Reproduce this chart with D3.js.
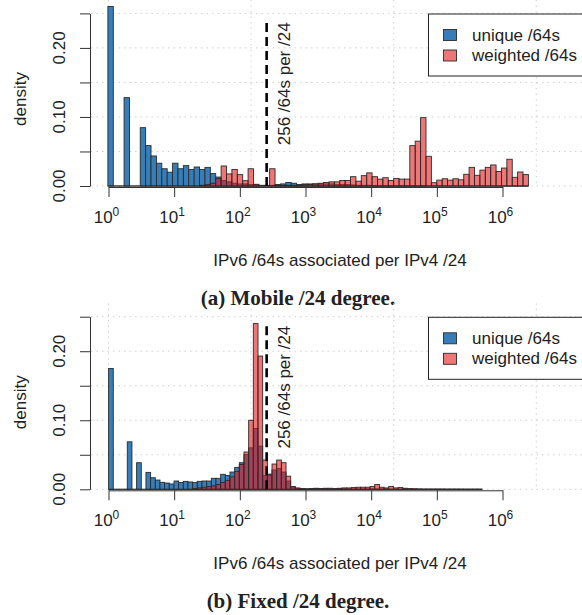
<!DOCTYPE html>
<html>
<head>
<meta charset="utf-8">
<script src="https://cdnjs.cloudflare.com/ajax/libs/d3/7.8.5/d3.min.js"></script>
<style>
  body { margin: 0; background: #fff; }
  text { font-family: "Liberation Sans", Arial, sans-serif; fill: #222; }
  .cap { font-family: "Liberation Serif", "Times New Roman", serif; font-weight: bold; }
</style>
</head>
<body>
<svg id="chart" width="582" height="615"></svg>
<script>
// histogram densities, one value per bin (log10 bins)
var mobileUnique = [0.260, 0, 0, 0.128, 0, 0, 0.0845, 0.0585, 0.0435, 0.033,
  0.025, 0.020, 0.033, 0.025, 0.0295, 0.024, 0.0275, 0.024, 0.027, 0.018,
  0.013, 0.008, 0.006, 0.004, 0.003, 0.003, 0.002, 0.002, 0.001, 0.001,
  0.001, 0.002, 0.003, 0.005, 0.004, 0.002, 0.003, 0.003, 0.003, 0.003,
  0.003, 0.003, 0.002, 0.002, 0.002, 0.0015, 0.001, 0.001, 0.001, 0.0008,
  0.0005, 0.0004, 0.0003, 0.0003, 0.0002, 0.0002, 0.0002, 0.0001, 0.0001, 0,
  0, 0, 0, 0, 0, 0, 0, 0, 0, 0,
  0, 0, 0, 0, 0, 0, 0, 0];
var mobileWeighted = [0, 0, 0, 0, 0, 0, 0, 0, 0, 0,
  0, 0, 0, 0, 0, 0, 0, 0.001, 0.002, 0.004,
  0.011, 0.029, 0.0175, 0.024, 0.0165, 0.0077, 0.025, 0.0025, 0, 0,
  0.025, 0.0015, 0.001, 0.001, 0.001, 0.0015, 0.002, 0.002, 0.003, 0.004,
  0.005, 0.006, 0.006, 0.008, 0.008, 0.0135, 0.007, 0.015, 0.019, 0.0135,
  0.010, 0.012, 0.008, 0.011, 0.010, 0.010, 0.0585, 0.065, 0.099, 0.043,
  0.0048, 0.0085, 0.0105, 0.0085, 0.0105, 0.009, 0.017, 0.027, 0.0155, 0.023,
  0.027, 0.0305, 0.021, 0.026, 0.0387, 0.0126, 0.0203, 0.0165];
var fixedUnique = [0.175, 0, 0, 0, 0.0688, 0, 0.0385, 0, 0.0245, 0.0168,
  0.0134, 0.0101, 0.0091, 0.0077, 0.012, 0.010, 0.0115, 0.0106, 0.010, 0.0115,
  0.012, 0.012, 0.0159, 0.0159, 0.0217, 0.020, 0.025, 0.0318, 0.0385, 0.0505,
  0.060, 0.088, 0.0626, 0.020, 0.022, 0.028, 0.030, 0.025, 0.012, 0.003,
  0.001, 0.0005, 0.0005, 0.0005, 0.0005, 0.0005, 0.0005, 0.0005, 0.0005, 0.0005,
  0.0005, 0.0003, 0.0003, 0.0003, 0.0003, 0.0003, 0.0003, 0.0003, 0.0003, 0.0003,
  0, 0, 0, 0, 0, 0, 0, 0, 0, 0,
  0, 0, 0, 0, 0, 0, 0, 0, 0, 0];
var fixedWeighted = [0, 0, 0, 0, 0, 0, 0, 0, 0, 0,
  0, 0, 0, 0, 0, 0, 0, 0, 0.001, 0.002,
  0.003, 0.004, 0.005, 0.007, 0.010, 0.013, 0.018, 0.026, 0.036, 0.054,
  0.100, 0.240, 0.193, 0.0424, 0.0207, 0.0366, 0.0424, 0.0385, 0.019, 0.004,
  0.002, 0.001, 0.0005, 0.001, 0.0015, 0.001, 0.0015, 0.0015, 0.001, 0.0015,
  0.002, 0.002, 0.0025, 0.003, 0.003, 0.003, 0.004, 0.007, 0.003, 0.002,
  0.004, 0.002, 0.0025, 0.0015, 0.001, 0.0008, 0.0005, 0.0003, 0.0003, 0.0003,
  0.0003, 0.0003, 0.0002, 0.0002, 0.0002, 0.0002, 0.0001, 0.0001, 0.0001, 0.0001];

// bin layout in log10 units (first edge, width)
var mobileBins = [-0.0091, 0.0821];
var fixedBins = [0.0015, 0.0711];

var decades = [0, 1, 2, 3, 4, 5, 6];
var yTicks = [0, 0.05, 0.10, 0.15, 0.20, 0.25];
var yLabels = [0, 0.10, 0.20];
var seriesNames = ["unique /64s", "weighted /64s"];
var refValue = 256;
var refLabel = "256 /64s per /24";
var xTitle = "IPv6 /64s associated per IPv4 /24";

var blue = "#377EB8";
var red = "rgba(228,26,28,0.6)";
var edge = "#2b2b2b";

var svg = d3.select("#chart");
svg.append("rect").attr("width", 582).attr("height", 615).attr("fill", "#fff");

var x = d3.scaleLog().domain([1, 1e6]).range([108.5, 502.5]);

function panel(y0, unique, weighted, bins, caption) {
    var g = svg.append("g");
    var y = d3.scaleLinear().domain([0, 0.25]).range([y0, y0 - 172.6]);
    var top = y0 - 186;

    // grid
    g.selectAll(".hg").data(yTicks).enter().append("line")
        .attr("x1", 91).attr("x2", 600)
        .attr("y1", d => y(d)).attr("y2", d => y(d))
        .attr("stroke", "#cfcfcf").attr("stroke-dasharray", "1.5,4");
    g.selectAll(".vg").data([0, 5, 10, 15]).enter().append("line")
        .attr("x1", d => x(Math.exp(d))).attr("x2", d => x(Math.exp(d)))
        .attr("y1", top).attr("y2", y0)
        .attr("stroke", "#cfcfcf").attr("stroke-dasharray", "1.5,4");

    function edgeAt(k) { return x(Math.pow(10, bins[0] + k * bins[1])); }

    [[unique, blue], [weighted, red]].forEach(function(s) {
        var vals = s[0].map((v, k) => ({k: k, v: v})).filter(d => d.v > 0);
        g.append("line")
            .attr("x1", edgeAt(0)).attr("x2", edgeAt(s[0].length))
            .attr("y1", y0).attr("y2", y0)
            .attr("stroke", edge).attr("stroke-width", 0.9);
        g.selectAll(null).data(vals).enter().append("rect")
            .attr("x", d => edgeAt(d.k))
            .attr("y", d => y(d.v))
            .attr("width", d => edgeAt(d.k + 1) - edgeAt(d.k))
            .attr("height", d => y0 - y(d.v))
            .attr("fill", s[1]).attr("stroke", edge).attr("stroke-width", 0.9);
    });

    // reference line
    var ry = y(0.237);
    g.append("line")
        .attr("x1", x(refValue)).attr("x2", x(refValue))
        .attr("y1", y0).attr("y2", ry)
        .attr("stroke", "#000").attr("stroke-width", 2.6)
        .attr("stroke-dasharray", "9,5");
    g.append("text")
        .attr("transform", "translate(" + (x(refValue) + 23) + "," + ry + ") rotate(-90)")
        .attr("text-anchor", "end").style("font-size", "17px")
        .text(refLabel);

    // axes
    var ya = g.append("g").attr("transform", "translate(90,0)")
        .call(d3.axisLeft(y).tickValues(yTicks).tickSize(10).tickSizeOuter(0).tickFormat(""));
    ya.selectAll("path,line").attr("stroke", "#333");
    g.selectAll(".yl").data(yLabels).enter().append("text")
        .attr("transform", d => "translate(65," + y(d) + ") rotate(-90)")
        .attr("text-anchor", "middle").style("font-size", "17px")
        .text(d => d.toFixed(2));
    g.append("text")
        .attr("transform", "translate(26," + (y0 - 87) + ") rotate(-90)")
        .attr("text-anchor", "middle").style("font-size", "17px")
        .text("density");

    var xa = g.append("g").attr("transform", "translate(0," + (y0 + 1) + ")")
        .call(d3.axisBottom(x).tickValues(decades.map(d => Math.pow(10, d)))
            .tickSize(10).tickSizeOuter(0).tickFormat(""));
    xa.selectAll("path,line").attr("stroke", "#333");
    var lab = g.selectAll(".xl").data(decades).enter().append("text")
        .attr("x", d => x(Math.pow(10, d)) - 2)
        .attr("y", y0 + 37)
        .attr("text-anchor", "middle").style("font-size", "17px");
    lab.append("tspan").text("10");
    lab.append("tspan").attr("dy", -7).style("font-size", "12px").text(d => d);

    g.append("text").attr("x", 340).attr("y", y0 + 80)
        .attr("text-anchor", "middle").style("font-size", "17px").text(xTitle);

    g.append("text").attr("class", "cap").attr("x", 298).attr("y", y0 + 119)
        .attr("text-anchor", "middle").style("font-size", "21px").text(caption);

    // legend
    g.append("rect").attr("x", 428.5).attr("y", y0 - 172).attr("width", 170).attr("height", 62)
        .attr("fill", "#fff").attr("stroke", "#222").attr("stroke-width", 1);
    [blue, red].forEach(function(c, i) {
        var base = y0 - 145.5 + i * 20.5;
        g.append("rect").attr("x", 443.5).attr("y", base - 11).attr("width", 13).attr("height", 11)
            .attr("fill", c).attr("stroke", edge).attr("stroke-width", 0.9);
        g.append("text").attr("x", 472).attr("y", base)
            .style("font-size", "17px").text(seriesNames[i]);
    });
}

panel(186, mobileUnique, mobileWeighted, mobileBins, "(a) Mobile /24 degree.");
panel(489.3, fixedUnique, fixedWeighted, fixedBins, "(b) Fixed /24 degree.");
</script>
</body>
</html>
